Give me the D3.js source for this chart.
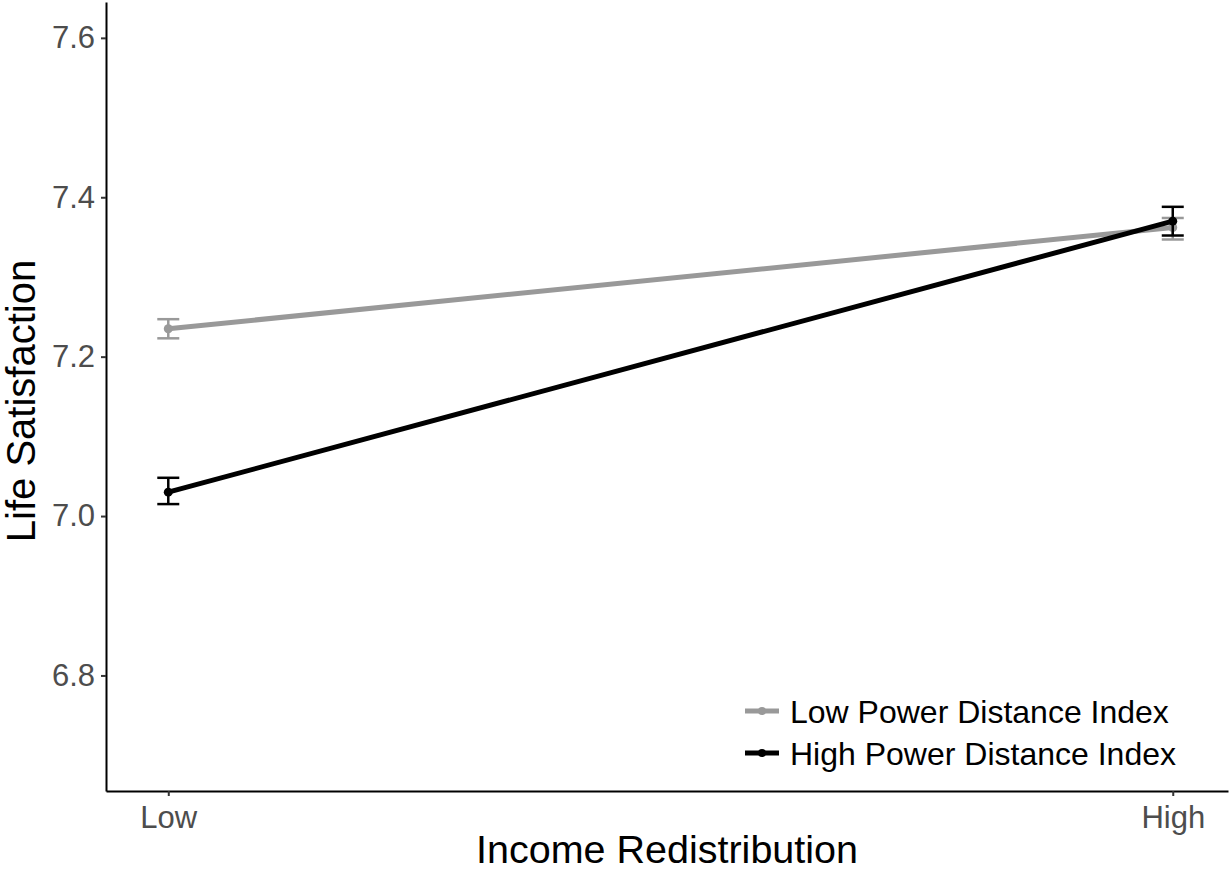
<!DOCTYPE html>
<html>
<head>
<meta charset="utf-8">
<script src="https://cdn.jsdelivr.net/npm/d3@7"></script>
<style>
  body { margin: 0; background: #fff; }
  svg { display: block; font-family: "Liberation Sans", Arial, sans-serif; }
</style>
</head>
<body>
<svg width="1231" height="875"></svg>
<script>
const width = 1231;
const height = 875;
const svg = d3.select("svg");

// data
const categories = ["Low", "High"];
const seriesNames = ["Low Power Distance Index", "High Power Distance Index"];
const seriesColors = ["#999999", "#000000"];
const lowPdiMean = [7.235, 7.362];
const lowPdiLower = [7.223, 7.347];
const lowPdiUpper = [7.247, 7.374];
const highPdiMean = [7.030, 7.370];
const highPdiLower = [7.015, 7.352];
const highPdiUpper = [7.048, 7.388];
const yTicks = [6.8, 7.0, 7.2, 7.4, 7.6];

const series = [
    { name: seriesNames[0], color: seriesColors[0], mean: lowPdiMean, lo: lowPdiLower, hi: lowPdiUpper },
    { name: seriesNames[1], color: seriesColors[1], mean: highPdiMean, lo: highPdiLower, hi: highPdiUpper }
];

const plotLeft = 106, plotRight = 1228, plotTop = 2, plotBottom = 791;

const x = d3.scaleLinear().domain([-0.062, 1.055]).range([plotLeft, plotRight]);
const y = d3.scaleLinear().domain([6.655, 7.645]).range([plotBottom, plotTop]);

// axes
const yAxis = svg.append("g")
    .attr("transform", `translate(${plotLeft},0)`)
    .call(d3.axisLeft(y).tickValues(yTicks).tickFormat(d3.format(".1f"))
        .tickSizeInner(5).tickSizeOuter(0).tickPadding(6));
const xAxis = svg.append("g")
    .attr("transform", `translate(0,${plotBottom})`)
    .call(d3.axisBottom(x).tickValues([0, 1]).tickFormat(i => categories[i])
        .tickSizeInner(5).tickSizeOuter(0).tickPadding(6));

[yAxis, xAxis].forEach(g => {
    g.select(".domain").attr("stroke", "#000").attr("stroke-width", 2);
    g.selectAll(".tick line").attr("stroke", "#333").attr("stroke-width", 2);
    g.selectAll(".tick text").attr("fill", "#4d4d4d").style("font-size", "31px");
});
xAxis.selectAll(".tick text").attr("dy", "0.85em");

// series
const line = d3.line().x((d, i) => x(i)).y(d => y(d));
series.forEach(s => {
    const g = svg.append("g");
    g.append("path")
        .attr("d", line(s.mean))
        .attr("fill", "none")
        .attr("stroke", s.color)
        .attr("stroke-width", 5);
    s.mean.forEach((m, i) => {
        const cx = x(i);
        g.append("line").attr("x1", cx).attr("x2", cx).attr("y1", y(s.lo[i])).attr("y2", y(s.hi[i]))
            .attr("stroke", s.color).attr("stroke-width", 2.5);
        [s.lo[i], s.hi[i]].forEach(v => {
            g.append("line").attr("x1", cx - 11).attr("x2", cx + 11).attr("y1", y(v)).attr("y2", y(v))
                .attr("stroke", s.color).attr("stroke-width", 2.5);
        });
        g.append("circle").attr("cx", cx).attr("cy", y(m)).attr("r", 4.5).attr("fill", s.color);
    });
});

// legend
const legend = svg.append("g").attr("transform", "translate(745,711)");
series.forEach((s, i) => {
    const row = legend.append("g").attr("transform", `translate(0,${i * 42})`);
    row.append("line").attr("x1", 0).attr("x2", 34).attr("stroke", s.color).attr("stroke-width", 5);
    row.append("circle").attr("cx", 17).attr("r", 4).attr("fill", s.color);
    row.append("text").attr("x", 45).attr("dy", "0.36em")
        .style("font-size", "32px").attr("fill", "#000").text(s.name);
});

// axis titles
svg.append("text")
    .attr("x", 667).attr("y", 863)
    .attr("text-anchor", "middle").style("font-size", "39.5px")
    .text("Income Redistribution");
svg.append("text")
    .attr("transform", "translate(35,401) rotate(-90)")
    .attr("text-anchor", "middle").style("font-size", "40px")
    .text("Life Satisfaction");
</script>
</body>
</html>
